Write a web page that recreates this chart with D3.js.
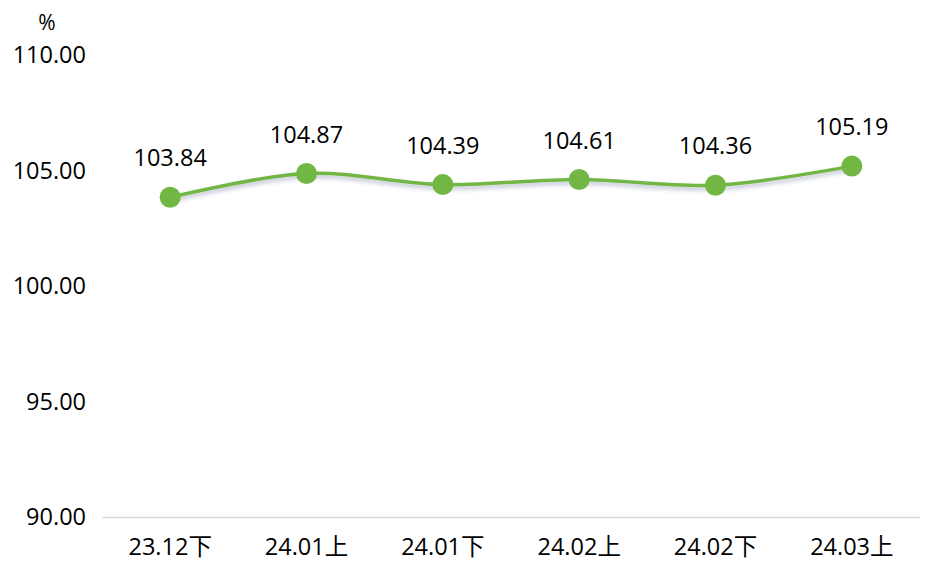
<!DOCTYPE html>
<html><head><meta charset="utf-8">
<script src="https://cdn.jsdelivr.net/npm/d3@7"></script>
<style>
html,body{margin:0;padding:0;background:#fff;}
svg{display:block;}
svg text{font-family:"Open Sans","Noto Sans","Noto Sans CJK SC",sans-serif;}
</style></head><body>
<svg id="chart" width="936" height="578"></svg>
<script>
const categories = ["23.12下","24.01上","24.01下","24.02上","24.02下","24.03上"];
const values = [103.84,104.87,104.39,104.61,104.36,105.19];
const yTicks = [90,95,100,105,110];
const unitLabel = "%";

const svg = d3.select("#chart");
const x = d3.scaleBand().domain(categories).range([102, 920]);
const y = d3.scaleLinear().domain([90, 110]).range([517, 55]);
const green = "#72b744";
const FS = 23.5;

const defs = svg.append("defs");
const f = defs.append("filter").attr("id","sh").attr("x","-10%").attr("y","-50%").attr("width","120%").attr("height","200%");
f.append("feDropShadow").attr("dx",0).attr("dy",3).attr("stdDeviation",2.2).attr("flood-color","#3b4a7a").attr("flood-opacity",0.35);

// y axis labels
const ya = svg.append("g").attr("transform","translate(86,0)")
  .call(d3.axisLeft(y).tickValues(yTicks).tickSize(0).tickPadding(0).tickFormat(d => d.toFixed(2)));
ya.attr("font-family",null).attr("font-size",null);
ya.select(".domain").remove();
ya.selectAll("text").attr("font-size",FS).attr("fill","#000");

svg.append("text").attr("x",47).attr("y",30).attr("text-anchor","middle").attr("font-size",21).attr("fill","#000").text(unitLabel);

// x axis
const xa = svg.append("g").attr("transform","translate(0,517)")
  .call(d3.axisBottom(x).tickSize(0).tickPadding(21));
xa.attr("font-family",null).attr("font-size",null);
xa.select(".domain").attr("stroke","#d9d9d9").attr("stroke-width",1.5);
xa.selectAll("text").attr("font-size",FS).attr("fill","#000");

const cx = d => x(d) + x.bandwidth()/2;
const pts = categories.map((c,i) => [cx(c), y(values[i])]);

svg.append("path").datum(pts)
  .attr("d", d3.line().curve(d3.curveCatmullRom.alpha(0.5)))
  .attr("fill","none").attr("stroke",green).attr("stroke-width",3.5)
  .attr("filter","url(#sh)");

svg.selectAll("circle.p").data(pts).join("circle").attr("class","p")
  .attr("cx",d=>d[0]).attr("cy",d=>d[1]).attr("r",10.5).attr("fill",green);

svg.selectAll("text.lbl").data(categories).join("text").attr("class","lbl")
  .attr("x",c=>cx(c)).attr("y",(c,i)=>y(values[i]) - 31)
  .attr("text-anchor","middle").attr("font-size",FS).attr("fill","#000")
  .text((c,i)=>values[i].toFixed(2));
</script>
</body></html>
